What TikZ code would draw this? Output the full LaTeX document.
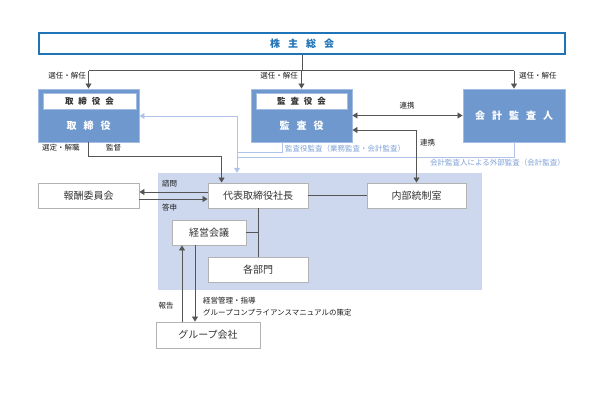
\documentclass[tikz,border=0pt]{standalone}
\usepackage{fontspec}
\setmainfont{Noto Sans CJK JP}
\usetikzlibrary{arrows.meta,calc}
\definecolor{darkline}{HTML}{555555}
\definecolor{boxblue}{HTML}{6F98CF}
\definecolor{boxedge}{HTML}{A3BCE3}
\definecolor{lightline}{HTML}{AFC4E8}
\definecolor{lighttext}{HTML}{7FA0D6}
\definecolor{shade}{HTML}{CDD8EE}
\definecolor{topblue}{HTML}{1F73B7}
\definecolor{graybox}{HTML}{B3B3B3}
\definecolor{txt}{HTML}{333333}
\definecolor{lbltxtc}{HTML}{1A1A1A}
\tikzset{
  whitebox/.style={draw=graybox, line width=0.9pt, fill=white, inner sep=0pt, text=txt, font=\fontsize{10}{12}\selectfont},
  bluebox/.style={draw=boxedge, line width=0.9pt, fill=boxblue, inner sep=0pt},
  innerbox/.style={draw=boxedge, line width=0.6pt, fill=white, inner sep=0pt, text=txt, font=\fontsize{8.5}{10}\selectfont\bfseries},
  bluetxt/.style={inner sep=0pt, text=white, font=\fontsize{10}{12}\selectfont\bfseries},
  lbl/.style={inner sep=0pt, text=lbltxtc, font=\fontsize{7.5}{9}\selectfont},
  lbltxt/.style={inner sep=0pt, text=lighttext, font=\fontsize{7.5}{9}\selectfont},
  conn/.style={draw=darkline, line width=0.8pt},
  arr/.style={conn, -{Triangle[length=5pt,width=6pt]}},
  dbl/.style={conn, {Triangle[length=5pt,width=6pt]}-{Triangle[length=5pt,width=6pt]}},
  lbconn/.style={draw=lightline, line width=0.9pt},
  lbarr/.style={lbconn, -{Triangle[length=5pt,width=6pt]}},
}
\begin{document}
\begin{tikzpicture}[x=1pt,y=-1pt]
\useasboundingbox (0,0) rectangle (600,411);
% shaded region
\node[fill=shade, draw=none, minimum width=324pt, minimum height=117pt, inner sep=0pt] (area) at (320,231.5) {};
% top box
\node[draw=topblue, line width=1.5pt, fill=white, minimum width=526pt, minimum height=21pt, inner sep=0pt,
      text=topblue, font=\fontsize{10}{12}\selectfont\bfseries] (kabu) at (302,43.5)
      {株\hspace{8pt}主\hspace{8pt}総\hspace{8pt}会};
% blue boxes
\node[bluebox, minimum width=101pt, minimum height=53pt] (tori) at (88.5,115.5) {};
\node[innerbox, minimum width=93pt, minimum height=16pt] (torikai) at (89.5,101) {取\hspace{5pt}締\hspace{5pt}役\hspace{5pt}会};
\node[bluetxt] (toritxt) at (88.5,126) {取\hspace{7pt}締\hspace{7pt}役};
\node[bluebox, minimum width=101pt, minimum height=53pt] (kansa) at (301.5,115.5) {};
\node[innerbox, minimum width=91pt, minimum height=16pt] (kansakai) at (301.5,101) {監\hspace{5pt}査\hspace{5pt}役\hspace{5pt}会};
\node[bluetxt] (kansatxt) at (301.5,126) {監\hspace{7pt}査\hspace{7pt}役};
\node[bluebox, minimum width=102pt, minimum height=53pt] (kaikei) at (514,115.5) {};
\node[bluetxt] (kaikeitxt) at (514,115.5) {会\hspace{7pt}計\hspace{7pt}監\hspace{7pt}査\hspace{7pt}人};
% white boxes
\node[whitebox, minimum width=101pt, minimum height=25pt] (hoshu) at (88.5,195.5) {報酬委員会};
\node[whitebox, minimum width=100pt, minimum height=25pt] (daihyo) at (258,195.5) {代表取締役社長};
\node[whitebox, minimum width=99pt, minimum height=25pt] (naibu) at (416.5,195.5) {内部統制室};
\node[whitebox, minimum width=74pt, minimum height=25pt] (keiei) at (209,232.5) {経営会議};
\node[whitebox, minimum width=100pt, minimum height=25pt] (kakubu) at (258,269.5) {各部門};
\node[whitebox, minimum width=104pt, minimum height=26pt] (group) at (208,335) {グループ会社};
% top connectors
\coordinate (hub) at ($(kabu.south)+(0,16)$);
\draw[conn] (kabu.south) -- (hub);
\draw[conn] (tori.north |- hub) -- (kaikei.north |- hub);
\draw[arr] (tori.north |- hub) -- (tori.north);
\draw[arr] (kansa.north |- hub) -- (kansa.north);
\draw[arr] (kaikei.north |- hub) -- (kaikei.north);
\node[lbl, anchor=east] (s1) at (86,76) {選任・解任};
\node[lbl, anchor=east] (s2) at (298,76) {選任・解任};
\node[lbl, anchor=west] (s3) at (519,76) {選任・解任};
% light blue audit lines
\coordinate (jTop) at (237,116);
\coordinate (jA) at (237,152);
\coordinate (jB) at (237,157);
\draw[lbconn] ($(kansa.south)+(-19.5,0)$) |- (jA);
\draw[lbconn] (kaikei.south) |- (jB);
\draw[lbarr] (jTop) -- (jTop |- area.north);
\draw[lbarr] (jTop) -- (tori.east |- jTop);
\node[lbltxt, anchor=west] (kansatext) at (285,149) {監査役監査（業務監査・会計監査）};
\node[lbltxt, anchor=east] (gaibu) at (565,163) {会計監査人による外部監査（会計監査）};
% renkei
\draw[dbl] (kansa.east) -- (kaikei.west);
\node[lbl] (r1) at (407,106) {連携};
\draw[dbl] ($(kansa.east)+(0,14.5)$) -| (naibu.north);
\node[lbl, anchor=west] (r2) at (420,143) {連携};
% kantoku
\draw[arr] (tori.south) -- ++(0,14) -| ($(daihyo.north west)+(14,0)$);
\node[lbl, anchor=west] (sentei) at (42,148) {選定・解職};
\node[lbl, anchor=west] (kantoku) at (106,148) {監督};
% shimon / toushin
\draw[arr] ($(daihyo.west)+(0,-3.5)$) -- ($(hoshu.east)+(0,-3.5)$);
\draw[arr] ($(hoshu.east)+(0,3.5)$) -- ($(daihyo.west)+(0,3.5)$);
\node[lbl, anchor=west] (shimon) at (162,184) {諮問};
\node[lbl, anchor=west] (toushin) at (162,208) {答申};
% internal
\draw[conn] (daihyo.east) -- (naibu.west);
\draw[conn] (daihyo.south) -- (kakubu.north);
\draw[conn] (keiei.east) -- (keiei.east -| daihyo.south);
% group
\draw[arr] ($(group.north)+(-26,0)$) -- ($(keiei.south)+(-27,0)$);
\draw[arr] ($(keiei.south)+(-14,0)$) -- ($(group.north)+(-13,0)$);
\node[lbl] (hokoku) at (166,306) {報告};
\node[lbl, anchor=west] (kanri) at (203,301) {経営管理・指導};
\node[lbl, anchor=west] (manual) at (203,313) {グループコンプライアンスマニュアルの策定};
\end{tikzpicture}
\end{document}
